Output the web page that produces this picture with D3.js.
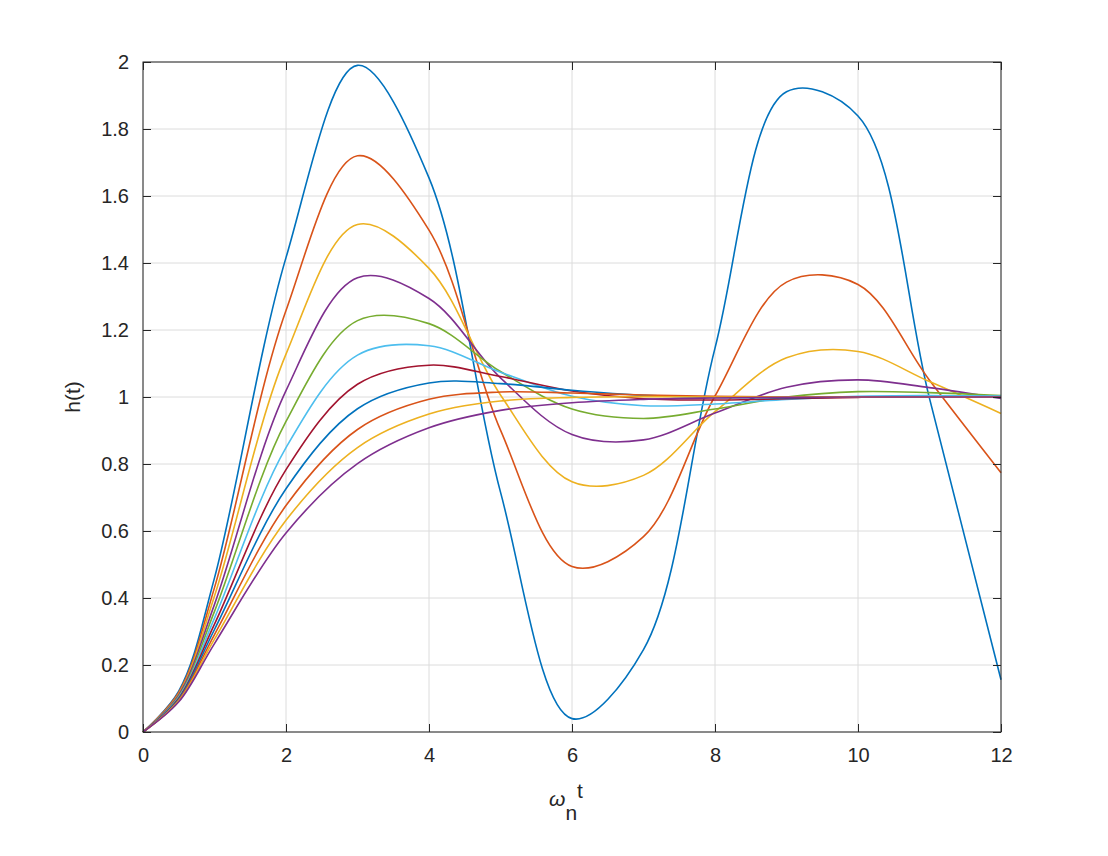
<!DOCTYPE html>
<html>
<head>
<meta charset="utf-8">
<script src="https://cdn.jsdelivr.net/npm/d3@7"></script>
<style>
  body { margin: 0; background: #fff; }
  svg { font-family: "Liberation Sans", Arial, sans-serif; }
</style>
</head>
<body>
<svg id="chart" width="1108" height="856"></svg>
<script>
// time samples (omega_n * t)
const times = [0, 0.5, 1, 2, 3, 4, 5, 6, 7, 8, 9, 10, 11, 12]

// damping ratios, one curve each
const zetas = [0, 0.1, 0.2, 0.3, 0.4, 0.5, 0.6, 0.7, 0.8, 0.9, 1.0]

// h(t) values, one row per zeta
const h00 = [0, 0.122, 0.460, 1.416, 1.990, 1.654, 0.716, 0.040, 0.246, 1.146, 1.911, 1.839, 0.996, 0.156]
const h01 = [0, 0.118, 0.431, 1.258, 1.720, 1.498, 0.901, 0.494, 0.583, 1.003, 1.343, 1.336, 1.050, 0.774]
const h02 = [0, 0.114, 0.406, 1.128, 1.515, 1.384, 1.006, 0.747, 0.766, 0.956, 1.117, 1.136, 1.046, 0.951]
const h03 = [0, 0.111, 0.381, 1.019, 1.356, 1.294, 1.057, 0.888, 0.872, 0.952, 1.029, 1.051, 1.028, 0.996]
const h04 = [0, 0.107, 0.360, 0.927, 1.228, 1.219, 1.076, 0.964, 0.936, 0.964, 1.000, 1.016, 1.013, 1.004]
const h05 = [0, 0.104, 0.340, 0.849, 1.125, 1.153, 1.074, 1.002, 0.974, 0.979, 0.993, 1.002, 1.004, 1.003]
const h06 = [0, 0.101, 0.322, 0.783, 1.038, 1.095, 1.061, 1.018, 0.995, 0.991, 0.995, 0.999, 1.000, 1.000]
const h07 = [0, 0.098, 0.306, 0.726, 0.965, 1.042, 1.040, 1.020, 1.005, 0.999, 0.998, 1.000, 1.000, 1.000]
const h08 = [0, 0.095, 0.291, 0.676, 0.903, 0.993, 1.015, 1.012, 1.006, 1.002, 1.000, 1.000, 1.000, 1.000]
const h09 = [0, 0.093, 0.277, 0.632, 0.849, 0.949, 0.988, 0.999, 1.001, 1.000, 1.000, 1.000, 1.000, 1.000]
const h10 = [0, 0.090, 0.264, 0.594, 0.801, 0.908, 0.960, 0.983, 0.993, 0.997, 0.999, 1.000, 1.000, 1.000]

const series = [h00, h01, h02, h03, h04, h05, h06, h07, h08, h09, h10]

const xTicks = [0, 2, 4, 6, 8, 10, 12]
const yTicks = [0, 0.2, 0.4, 0.6, 0.8, 1, 1.2, 1.4, 1.6, 1.8, 2]

const colors = ['#0072BD', '#D95319', '#EDB120', '#7E2F8E', '#77AC30', '#4DBEEE',
                '#A2142F', '#0072BD', '#D95319', '#EDB120', '#7E2F8E']

let svg = d3.select('#chart'),
    mLeft = 143, mRight = 1001, mTop = 62, mBottom = 732

let x = d3.scaleLinear().domain([0, 12]).range([mLeft, mRight]),
    y = d3.scaleLinear().domain([0, 2]).range([mBottom, mTop])

// grid
svg.append('g').selectAll('line').data(xTicks).enter().append('line')
    .attr('x1', d => x(d)).attr('x2', d => x(d)).attr('y1', mTop).attr('y2', mBottom)
    .attr('stroke', '#dcdcdc').attr('stroke-width', 1)
svg.append('g').selectAll('line').data(yTicks).enter().append('line')
    .attr('y1', d => y(d)).attr('y2', d => y(d)).attr('x1', mLeft).attr('x2', mRight)
    .attr('stroke', '#dcdcdc').attr('stroke-width', 1)

// curves
let line = d3.line()
    .x((d, i) => x(times[i]))
    .y(d => y(d))
    .curve(d3.curveCatmullRom.alpha(0.5))

svg.append('g').selectAll('path').data(series).enter().append('path')
    .attr('d', d => line(d))
    .attr('fill', 'none')
    .attr('stroke', (d, i) => colors[i])
    .attr('stroke-width', 1.6)

// axes with inward ticks
let axisStyle = g => {
    g.select('.domain').remove()
    g.selectAll('text').attr('font-size', 20).attr('fill', '#262626')
    g.selectAll('line').attr('stroke', '#262626')
}
svg.append('g').attr('transform', `translate(0,${mBottom})`)
    .call(d3.axisBottom(x).tickValues(xTicks).tickSizeInner(-8).tickSizeOuter(0).tickPadding(16))
    .call(axisStyle)
svg.append('g').attr('transform', `translate(${mLeft},0)`)
    .call(d3.axisLeft(y).tickValues(yTicks).tickFormat(d3.format('~g')).tickSizeInner(-8).tickSizeOuter(0).tickPadding(14))
    .call(axisStyle)
svg.append('g').attr('transform', `translate(0,${mTop})`)
    .call(d3.axisTop(x).tickValues(xTicks).tickSizeInner(-8).tickSizeOuter(0).tickFormat(''))
    .call(axisStyle)
svg.append('g').attr('transform', `translate(${mRight},0)`)
    .call(d3.axisRight(y).tickValues(yTicks).tickSizeInner(-8).tickSizeOuter(0).tickFormat(''))
    .call(axisStyle)

svg.append('rect')
    .attr('x', mLeft).attr('y', mTop).attr('width', mRight - mLeft).attr('height', mBottom - mTop)
    .attr('fill', 'none').attr('stroke', '#262626').attr('stroke-width', 1)

// labels
svg.append('text').attr('transform', `translate(80,${(mTop + mBottom) / 2}) rotate(-90)`)
    .attr('text-anchor', 'middle').attr('font-size', 21).attr('fill', '#262626').text('h(t)')

let xl = svg.append('text').attr('x', (mLeft + mRight) / 2 - 6).attr('y', 806)
    .attr('text-anchor', 'middle').attr('font-size', 21).attr('fill', '#262626')
xl.append('tspan').attr('font-style', 'italic').text('ω')
xl.append('tspan').attr('dy', 14).text('n')
xl.append('tspan').attr('dy', -22).text('t')
</script>
</body>
</html>
